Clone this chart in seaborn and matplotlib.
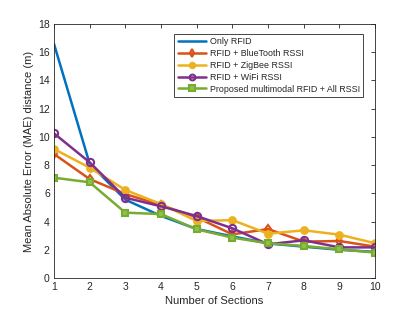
import matplotlib
matplotlib.use("Agg")
import matplotlib.pyplot as plt
import seaborn as sns
import pandas as pd
import numpy as np

sections = [1, 2, 3, 4, 5, 6, 7, 8, 9, 10]
only_rfid = [16.6, 8.1, 5.55, 4.4, 3.47, 2.95, 2.45, 2.22, 2.0, 1.85]
rfid_bt = [8.79, 7.01, 5.95, 5.17, 4.3, 3.09, 3.47, 2.58, 2.62, 2.22]
rfid_zigbee = [9.14, 7.82, 6.24, 5.24, 4.04, 4.1, 3.14, 3.38, 3.07, 2.46]
rfid_wifi = [10.25, 8.2, 5.69, 5.08, 4.39, 3.52, 2.39, 2.67, 2.17, 2.17]
proposed = [7.11, 6.78, 4.63, 4.53, 3.45, 2.86, 2.46, 2.27, 2.03, 1.8]

labels = ["Only RFID", "RFID + BlueTooth RSSI", "RFID + ZigBee RSSI",
          "RFID + WiFi RSSI", "Proposed multimodal RFID + All RSSI"]
series = [only_rfid, rfid_bt, rfid_zigbee, rfid_wifi, proposed]

sns.set_style("white")
plt.rcParams['font.family'] = ['Liberation Sans', 'DejaVu Sans']

colors = ["#0072BD", "#D95319", "#EDB120", "#7E2F8E", "#77AC30"]
markers = [None, "d", "o", "o", "s"]
faces = [None, "none", "#EDB120", "none", "#8FC04E"]
msizes = [0, 4.5, 4.8, 5.2, 4.8]

fig = plt.figure(figsize=(4.15, 3.12), dpi=100)
ax = fig.add_axes([0.130, 0.109, 0.774, 0.814])

for lab, vals, c, m, fc, ms in zip(labels, series, colors, markers, faces, msizes):
    df = pd.DataFrame({"x": sections, "y": vals})
    kw = {}
    if m is not None:
        kw = dict(marker=m, markersize=ms, markerfacecolor=fc,
                  markeredgecolor=c, markeredgewidth=1.5)
    sns.lineplot(data=df, x="x", y="y", ax=ax, color=c, linewidth=1.8,
                 label=lab, **kw)

ax.set_xlim(1, 10)
ax.set_ylim(0, 18)
ax.set_xticks(range(1, 11))
ax.set_yticks(range(0, 19, 2))
ax.tick_params(direction="in", length=3, width=0.6, labelsize=7.5,
               colors="#262626", top=True, right=True, pad=3)
for s in ax.spines.values():
    s.set_color("#262626")
    s.set_linewidth(0.6)
    s.set_visible(True)
ax.set_xlabel("Number of Sections", fontsize=8, color="#262626", labelpad=3)
ax.set_ylabel("Mean Absolute Error (MAE) distance (m)", fontsize=8,
              color="#262626", labelpad=3)

leg = ax.legend(loc="upper right", bbox_to_anchor=(0.963, 0.962), fontsize=6.4,
                frameon=True, fancybox=False, framealpha=1, edgecolor="#262626",
                handlelength=3.2, handletextpad=0.4, labelspacing=0.32,
                borderpad=0.4, borderaxespad=0, markerscale=0.8)
leg.get_frame().set_linewidth(0.6)

fig.savefig("out.png", dpi=100)
